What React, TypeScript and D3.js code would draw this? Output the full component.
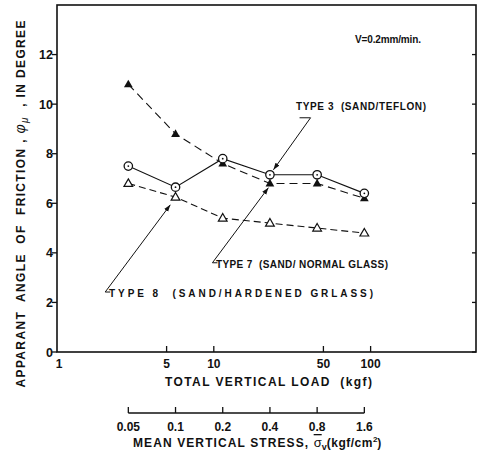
import React from 'react'
import * as d3 from 'd3'

// values
const loads = [2.85, 5.7, 11.4, 22.8, 45.6, 91.2]
const type3 = [10.8, 8.8, 7.6, 6.8, 6.8, 6.2]
const type7 = [7.5, 6.65, 7.8, 7.15, 7.15, 6.4]
const type8 = [6.8, 6.25, 5.4, 5.2, 5.0, 4.8]
const yTicks = [0, 2, 4, 6, 8, 10, 12]
const loadTicks = [5, 10, 50, 100]
const stressTicks = [0.05, 0.1, 0.2, 0.4, 0.8, 1.6]
const stressTickLabels = ['0.05', '0.1', '0.2', '0.4', '0.8', '1.6']
const loadPerStress = 57 // kgf per kgf/cm2 (loading area)

// leader lines: [corner/start, tip] in data space
const leaders = [
    { label: 'TYPE 3  (SAND/TEFLON)', from: [41.4, 9.45], tip: [24, 7.35], hook: 'left', tx: 296, ty: 110, tl: 130 },
    { label: 'TYPE 7  (SAND/ NORMAL GLASS)', from: [9.8, 3.6], tip: [22.3, 6.63], hook: 'right', tx: 216, ty: 268, tl: 172 },
    { label: 'TYPE 8  (SAND/HARDENED GRLASS)', from: [2.03, 2.42], tip: [5.28, 5.94], hook: 'right', tx: 109, ty: 297, tl: 264 },
]

export default function App() {
    const width = 480
    const height = 455
    const left = 57, right = 476, top = 5, bottom = 352

    const x = d3.scaleLog().domain([1, 470]).range([left, right])
    const y = d3.scaleLinear().domain([0, 14]).range([bottom, top])
    const xs = (s: number) => x(s * loadPerStress)

    const line = d3.line<number>()
        .x((d, i) => x(loads[i]))
        .y(d => y(d))

    const font = '"Liberation Sans", Arial, sans-serif'
    const ink = '#111'
    const pre = { whiteSpace: 'pre' as const }

    const triUp = (cx: number, cy: number, r = 4.6) =>
        `M${cx},${cy - r}L${cx + r * 0.95},${cy + r * 0.65}L${cx - r * 0.95},${cy + r * 0.65}Z`

    const axisY2 = 413

    return (
        <svg width={width} height={height} viewBox={`0 0 ${width} ${height}`}
            style={{ position: 'absolute', left: 0, top: 0, background: '#fff' }}
            fontFamily={font} fontWeight="bold" fill={ink}>
            <defs>
                <marker id="arr" viewBox="0 0 10 10" refX="10" refY="5" markerWidth="7" markerHeight="7" orient="auto-start-reverse">
                    <path d="M0,1.5L10,5L0,8.5Z" fill={ink} />
                </marker>
            </defs>

            {/* frame */}
            <rect x={left} y={top} width={right - left} height={bottom - top} fill="none" stroke={ink} strokeWidth={1.6} />

            {/* y ticks */}
            {yTicks.map(t => (
                <g key={t}>
                    <line x1={left - 5} x2={left} y1={y(t)} y2={y(t)} stroke={ink} strokeWidth={1.3} />
                    <line x1={right - 4} x2={right} y1={y(t)} y2={y(t)} stroke={ink} strokeWidth={1.3} />
                    <text x={left - 4} y={y(t) + 4.5} textAnchor="end" fontSize={12.5}>{t}</text>
                </g>
            ))}

            {/* load ticks */}
            <text x={x(1) + 2} y={368} textAnchor="middle" fontSize={12}>1</text>
            {loadTicks.map(t => (
                <g key={t}>
                    <line x1={x(t)} x2={x(t)} y1={bottom} y2={bottom - 6} stroke={ink} strokeWidth={1.3} />
                    <text x={x(t)} y={368} textAnchor="middle" fontSize={12}>{t}</text>
                </g>
            ))}
            <text x={165} y={386} fontSize={12} textLength={207} lengthAdjust="spacing" style={pre}>TOTAL VERTICAL LOAD  (kgf)</text>

            {/* stress axis */}
            <line x1={xs(stressTicks[0])} x2={xs(stressTicks[stressTicks.length - 1])} y1={axisY2} y2={axisY2} stroke={ink} strokeWidth={1.6} />
            {stressTicks.map((t, i) => (
                <g key={t}>
                    <line x1={xs(t)} x2={xs(t)} y1={axisY2} y2={axisY2 - 6} stroke={ink} strokeWidth={1.3} />
                    <text x={xs(t)} y={431} textAnchor="middle" fontSize={12}>{stressTickLabels[i]}</text>
                </g>
            ))}
            <text x={133} y={447} fontSize={12}>
                <tspan letterSpacing={1.1}>MEAN VERTICAL STRESS, </tspan>
                <tspan fontWeight="normal" fontSize={13} style={{ textDecoration: 'overline' }}>σ</tspan>
                <tspan fontSize={9} dy={3}>v</tspan>
                <tspan dy={-3} letterSpacing={0.5}>(kgf/cm</tspan>
                <tspan fontSize={8} dy={-5}>2</tspan>
                <tspan dy={5}>)</tspan>
            </text>

            {/* y title */}
            <text transform="translate(25,204) rotate(-90)" textAnchor="middle" fontSize={12}
                textLength={367} lengthAdjust="spacing" style={pre}>
                APPARANT  ANGLE  OF  FRICTION , <tspan fontStyle="italic" fontWeight="normal" fontSize={14}>φ</tspan><tspan fontStyle="italic" fontWeight="normal" fontSize={10} dy={3}>μ</tspan><tspan dy={-3}>  , IN DEGREE</tspan>
            </text>

            {/* series lines */}
            <path d={line(type3) || ''} fill="none" stroke={ink} strokeWidth={1.1} strokeDasharray="8 5" />
            <path d={line(type7) || ''} fill="none" stroke={ink} strokeWidth={1.1} />
            <path d={line(type8) || ''} fill="none" stroke={ink} strokeWidth={1.1} strokeDasharray="7 4" />

            {/* markers */}
            {type3.map((v, i) => <path key={'a' + i} d={triUp(x(loads[i]), y(v))} fill={ink} />)}
            {type8.map((v, i) => <path key={'b' + i} d={triUp(x(loads[i]), y(v))} fill="#fff" stroke={ink} strokeWidth={1.2} />)}
            {type7.map((v, i) => (
                <g key={'c' + i}>
                    <circle cx={x(loads[i])} cy={y(v)} r={4.2} fill="#fff" stroke={ink} strokeWidth={1.3} />
                    <circle cx={x(loads[i])} cy={y(v)} r={0.9} fill={ink} />
                </g>
            ))}

            {/* annotations */}
            <text x={355} y={43} fontSize={10} textLength={66} lengthAdjust="spacing">V=0.2mm/min.</text>
            {leaders.map(l => {
                const x0 = x(l.from[0]), y0 = y(l.from[1])
                const x1 = x(l.tip[0]), y1 = y(l.tip[1])
                return (
                    <g key={l.label}>
                        <line x1={x0} y1={y0} x2={x1} y2={y1} stroke={ink} strokeWidth={1} markerEnd="url(#arr)" />
                        <line x1={l.hook === 'left' ? x0 - 11 : x0} x2={l.hook === 'left' ? x0 : x0 + 5}
                            y1={y0} y2={y0} stroke={ink} strokeWidth={1} />
                        <text x={l.tx} y={l.ty} fontSize={10} textLength={l.tl} lengthAdjust="spacing" style={pre}>{l.label}</text>
                    </g>
                )
            })}
        </svg>
    )
}
